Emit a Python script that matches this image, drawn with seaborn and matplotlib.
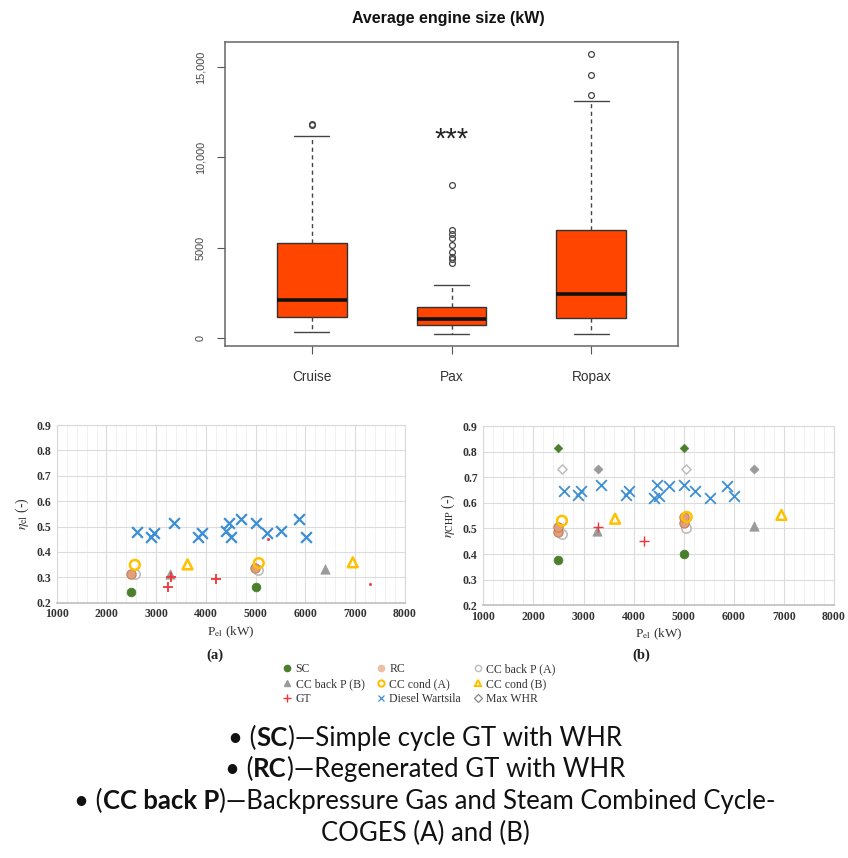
import numpy as np
import pandas as pd
import matplotlib
matplotlib.use('Agg')
import matplotlib.pyplot as plt
import seaborn as sns
from matplotlib.ticker import MultipleLocator, FixedLocator
from matplotlib.lines import Line2D

# ---------------- Box plot (summary statistics) ----------------
box_cats = ['Cruise', 'Pax', 'Ropax']
box_q1 = [1160, 700, 1090]
box_med = [2100, 1050, 2420]
box_q3 = [5250, 1710, 5970]
box_lo = [330, 200, 240]
box_hi = [11160, 2930, 13090]
box_fliers = [[11770, 11850],
              [8490, 6000, 5780, 5540, 5140, 4740, 4500, 4400, 4160],
              [13460, 14530, 15730]]
box_yticks = [0, 5000, 10000, 15000]
box_yticklabels = ['0', '5000', '10,000', '15,000']
box_title = 'Average engine size (kW)'
box_note = '***'
box_note_y = 11000

# ---------------- Scatter panels ----------------
sc_x = [2500, 5000]
sc_a = [0.243, 0.260]
sc_b = [0.375, 0.400]

rc_xa = [2500, 4990]
rc_a = [0.313, 0.336]
rc_xb = [2500, 2500, 5000, 5000]
rc_b = [0.485, 0.505, 0.520, 0.545]

ccpa_x = [2570, 5050]
ccpa_a = [0.313, 0.327]
ccpa_b = [0.478, 0.503]

ccpb_x = [3270, 6400]
ccpb_a = [0.315, 0.331]
ccpb_b = [0.490, 0.510]

ccca_x = [2570, 5060]
ccca_a = [0.349, 0.356]
ccca_b = [0.530, 0.545]

cccb_x = [3630, 6950]
cccb_a = [0.351, 0.359]
cccb_b = [0.538, 0.553]

gt_xa = [3230, 3290, 4200]
gt_a = [0.261, 0.302, 0.294]
gt_dot_x = [5250, 7300]
gt_dot_a = [0.451, 0.272]
gt_xb = [3290, 4210]
gt_b = [0.505, 0.452]

dw_x = [2610, 2890, 2960, 3350, 3840, 3915, 4410, 4460, 4510, 4700, 5010, 5230, 5515, 5860, 6010]
dw_a = [0.477, 0.460, 0.473, 0.513, 0.460, 0.473, 0.483, 0.513, 0.460, 0.528, 0.513, 0.476, 0.483, 0.528, 0.460]
dw_b = [0.648, 0.632, 0.645, 0.670, 0.632, 0.645, 0.618, 0.670, 0.627, 0.665, 0.670, 0.647, 0.618, 0.665, 0.625]

whr_sc_x = [2500, 5000]
whr_sc_b = [0.816, 0.814]
whr_open_x = [2565, 5040]
whr_open_b = [0.733, 0.733]
whr_grey_x = [3280, 6400]
whr_grey_b = [0.734, 0.731]

legend_labels = ['SC', 'RC', 'CC back P (A)', 'CC back P (B)', 'CC cond (A)',
                 'CC cond (B)', 'GT', 'Diesel Wartsila', 'Max WHR']

bullet_lines = [
    [('• (', 'normal'), ('SC', 'bold'), (')—Simple cycle GT with WHR', 'normal')],
    [('• (', 'normal'), ('RC', 'bold'), (')—Regenerated GT with WHR', 'normal')],
    [('• (', 'normal'), ('CC back P', 'bold'), (')—Backpressure Gas and Steam Combined Cycle-', 'normal')],
    [('COGES (A) and (B)', 'normal')],
]

# ---------------- Styling ----------------
sns.set_theme(style='white')
plt.rcParams['font.family'] = ['Liberation Sans', 'DejaVu Sans']
plt.rcParams['mathtext.fontset'] = 'stix'

GREEN = '#4b7f2d'
PEACH = '#e2a07a'
PEACH_E = '#c0825c'
LGREY = '#bdbdbd'
GREY = '#9a9a9a'
YEL = '#ffc000'
RED = '#f0353a'
BLUE = '#3c8fd4'
SERIF = ['Liberation Serif', 'DejaVu Serif']

fig = plt.figure(figsize=(8.48, 8.58), dpi=100)

# ---------------- Top box plot ----------------
axb = fig.add_axes([225/848, 1-346/858, (678-225)/848, (346-42)/858])
stats = []
for i, c in enumerate(box_cats):
    stats.append(dict(label=c, q1=box_q1[i], med=box_med[i], q3=box_q3[i],
                      whislo=box_lo[i], whishi=box_hi[i], fliers=box_fliers[i]))
axb.bxp(stats, positions=[1, 2, 3], widths=0.5, patch_artist=True,
        boxprops=dict(facecolor='#ff4500', edgecolor='#333333', linewidth=1.0),
        medianprops=dict(color='#111111', linewidth=2.6),
        whiskerprops=dict(color='#444444', linestyle=(0, (3, 2.5)), linewidth=1.0),
        capprops=dict(color='#444444', linewidth=1.0),
        flierprops=dict(marker='o', markerfacecolor='none', markeredgecolor='#444444',
                        markersize=4.2, markeredgewidth=0.9),
        capwidths=0.25)
axb.set_xlim(0.38, 3.62)
axb.set_ylim(-440, 16380)
axb.yaxis.set_major_locator(FixedLocator(box_yticks))
axb.set_yticklabels(box_yticklabels, rotation=90, va='center', fontsize=7.8, color='#444444')
axb.set_xticks([1, 2, 3])
axb.set_xticklabels(box_cats, fontsize=9.8, color='#333333')
axb.tick_params(axis='both', direction='out', length=6, width=0.8, color='#555555',
                left=True, bottom=True, pad=3)
axb.tick_params(axis='y', pad=8)
axb.tick_params(axis='x', pad=11)
for s in axb.spines.values():
    s.set_color('#666666')
    s.set_linewidth(1.1)
axb.text(2, box_note_y, box_note, ha='center', va='center', fontsize=21, color='#222222')
fig.text(448/848, 1-18/858, box_title, ha='center', va='center', fontsize=11.5,
         fontweight='bold', color='#111111')


def style_panel(ax):
    ax.set_xlim(1000, 8000)
    ax.set_ylim(0.2, 0.9)
    ax.xaxis.set_major_locator(MultipleLocator(1000))
    ax.xaxis.set_minor_locator(MultipleLocator(200))
    ax.yaxis.set_major_locator(MultipleLocator(0.1))
    ax.grid(True, which='major', axis='both', color='#dcdcdc', linewidth=0.8)
    ax.grid(True, which='minor', axis='x', color='#efefef', linewidth=0.6)
    ax.set_axisbelow(True)
    ax.tick_params(axis='both', which='both', length=0, labelsize=8.5, pad=4)
    for lab in ax.get_xticklabels() + ax.get_yticklabels():
        lab.set_family(SERIF)
        lab.set_fontweight('bold')
        lab.set_color('#333333')
    ax.yaxis.set_major_formatter(matplotlib.ticker.FormatStrFormatter('%.1f'))
    for s in ax.spines.values():
        s.set_color('#d9d9d9')
        s.set_linewidth(0.8)
    ax.spines['bottom'].set_color('#bfbfbf')
    ax.spines['bottom'].set_linewidth(1.2)


def pts(ax, x, y, **kw):
    sns.scatterplot(x=x, y=y, ax=ax, legend=False, zorder=3, **kw)


# ---------------- Panel (a) ----------------
axa = fig.add_axes([56.7/848, 1-602.7/858, (405-56.7)/848, (602.7-425)/858])
pts(axa, dw_x, dw_a, marker='x', color=BLUE, s=60, linewidth=1.6)
pts(axa, sc_x, sc_a, marker='o', color=GREEN, s=40, edgecolor=GREEN)
pts(axa, ccpa_x, ccpa_a, marker='o', s=45, facecolors='white', edgecolor=LGREY, linewidth=1.2)
pts(axa, rc_xa, rc_a, marker='o', color=PEACH, s=45, edgecolor=PEACH_E, linewidth=0.8)
pts(axa, ccpb_x, ccpb_a, marker='^', color=GREY, s=45, edgecolor=GREY)
pts(axa, ccca_x, ccca_a, marker='o', s=50, facecolors='none', edgecolor=YEL, linewidth=1.8)
pts(axa, cccb_x, cccb_a, marker='^', s=50, facecolors='none', edgecolor=YEL, linewidth=1.8)
pts(axa, gt_xa, gt_a, marker='+', color=RED, s=55, linewidth=1.3)
pts(axa, gt_dot_x, gt_dot_a, marker='o', color=RED, s=4, edgecolor=RED)
style_panel(axa)
axa.set_xlabel(r'P$_{\rm el}$ (kW)', family=SERIF, fontsize=9.5, labelpad=3, color='#333333')
axa.set_ylabel(r'$\eta_{\rm el}$ (-)', family=SERIF, fontsize=10, labelpad=4, color='#333333')
fig.text(215/848, 1-655/858, '(a)', ha='center', va='center', family=SERIF,
         fontsize=10.5, fontweight='bold', color='#222222')

# ---------------- Panel (b) ----------------
axc = fig.add_axes([483.3/848, 1-605.3/858, (834-483.3)/848, (605.3-426)/858])
pts(axc, dw_x, dw_b, marker='x', color=BLUE, s=60, linewidth=1.3)
pts(axc, sc_x, sc_b, marker='o', color=GREEN, s=40, edgecolor=GREEN)
pts(axc, whr_sc_x, whr_sc_b, marker='D', color=GREEN, s=20, edgecolor=GREEN)
pts(axc, whr_open_x, whr_open_b, marker='D', s=22, facecolors='white', edgecolor=LGREY, linewidth=1.1)
pts(axc, whr_grey_x, whr_grey_b, marker='D', color=GREY, s=22, edgecolor=GREY)
pts(axc, ccpa_x, ccpa_b, marker='o', s=45, facecolors='white', edgecolor=LGREY, linewidth=1.2)
pts(axc, rc_xb, rc_b, marker='o', color=PEACH, s=45, edgecolor=PEACH_E, linewidth=0.8)
pts(axc, ccpb_x, ccpb_b, marker='^', color=GREY, s=45, edgecolor=GREY)
pts(axc, ccca_x, ccca_b, marker='o', s=50, facecolors='none', edgecolor=YEL, linewidth=1.8)
pts(axc, cccb_x, cccb_b, marker='^', s=50, facecolors='none', edgecolor=YEL, linewidth=1.8)
pts(axc, gt_xb, gt_b, marker='+', color=RED, s=55, linewidth=1.0)
style_panel(axc)
axc.set_xlabel(r'P$_{\rm el}$ (kW)', family=SERIF, fontsize=9.5, labelpad=3, color='#333333')
axc.set_ylabel(r'$\eta_{\rm CHP}$ (-)', family=SERIF, fontsize=10, labelpad=4, color='#333333')
fig.text(641/848, 1-655/858, '(b)', ha='center', va='center', family=SERIF,
         fontsize=10.5, fontweight='bold', color='#222222')

# ---------------- Legend ----------------
h = {
    'SC': Line2D([], [], ls='none', marker='o', mfc=GREEN, mec=GREEN, ms=4.5),
    'RC': Line2D([], [], ls='none', marker='o', mfc='#ecc0a5', mec='#ecc0a5', ms=4.5),
    'CC back P (A)': Line2D([], [], ls='none', marker='o', mfc='white', mec=LGREY, ms=4.5),
    'CC back P (B)': Line2D([], [], ls='none', marker='^', mfc=GREY, mec=GREY, ms=4.5),
    'CC cond (A)': Line2D([], [], ls='none', marker='o', mfc='none', mec=YEL, ms=4.5, mew=1.5),
    'CC cond (B)': Line2D([], [], ls='none', marker='^', mfc='none', mec=YEL, ms=5, mew=1.5),
    'GT': Line2D([], [], ls='none', marker='+', color=RED, ms=6, mew=1.0),
    'Diesel Wartsila': Line2D([], [], ls='none', marker='x', color=BLUE, ms=5, mew=0.9),
    'Max WHR': Line2D([], [], ls='none', marker='D', mfc='none', mec='#888888', ms=3.8, mew=0.9),
}
order = [0, 3, 6, 1, 4, 7, 2, 5, 8]
labs = [legend_labels[i] for i in order]
leg = fig.legend([h[l] for l in labs], labs, loc='center', ncol=3,
                 bbox_to_anchor=(419/848, 1-684/858), frameon=False,
                 prop=dict(family=SERIF, size=8.5), handlelength=0.8,
                 handletextpad=0.3, columnspacing=1.0, labelspacing=0.25)
for t in leg.get_texts():
    t.set_color('#333333')

# ---------------- Bullet text ----------------
BFONT = ['Lato', 'DejaVu Sans']
BSIZE = 18.5
line_y = [738, 769, 801, 833]
renderer = fig.canvas.get_renderer()
for segs, yy in zip(bullet_lines, line_y):
    widths = []
    for txt, w in segs:
        t = fig.text(0, 0, txt, fontsize=BSIZE, family=BFONT, fontweight=w)
        widths.append(t.get_window_extent(renderer).width)
        t.remove()
    total = sum(widths)
    x0 = 425 - total / 2
    for (txt, w), wd in zip(segs, widths):
        fig.text(x0 / 848, 1 - yy / 858, txt, fontsize=BSIZE, family=BFONT,
                 fontweight=w, ha='left', va='center', color='#111111')
        x0 += wd

fig.savefig('out.png', dpi=100)
